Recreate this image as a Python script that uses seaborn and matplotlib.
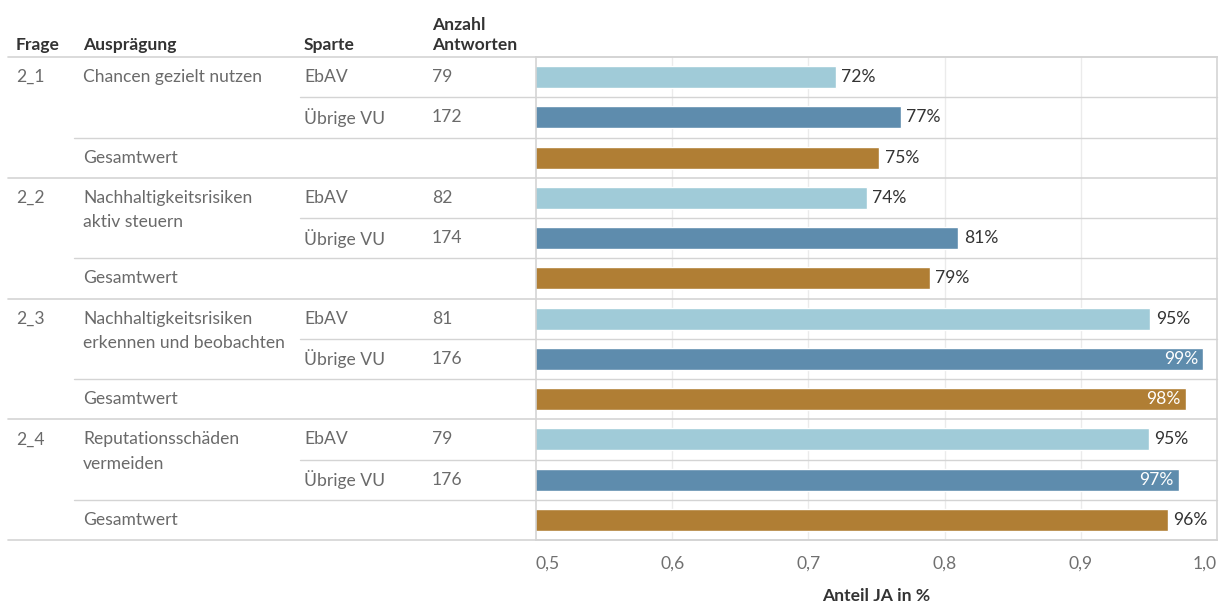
import matplotlib
matplotlib.use("Agg")
import matplotlib.pyplot as plt
import matplotlib.transforms as mtransforms
import seaborn as sns
import pandas as pd

# ---------------- data ----------------
fragen = ["2_1", "2_2", "2_3", "2_4"]
auspraegungen = ["Chancen gezielt nutzen",
                 "Nachhaltigkeitsrisiken\naktiv steuern",
                 "Nachhaltigkeitsrisiken\nerkennen und beobachten",
                 "Reputationsschäden\nvermeiden"]
sparten = ["EbAV", "Übrige VU", "Gesamtwert"]
anzahl_ebav = [79, 82, 81, 79]
anzahl_uebrige = [172, 174, 176, 176]
anteil_ebav = [0.72, 0.743, 0.951, 0.95]
anteil_uebrige = [0.768, 0.81, 0.99, 0.972]
anteil_gesamt = [0.752, 0.789, 0.977, 0.964]
x_ticks = [0.5, 0.6, 0.7, 0.8, 0.9, 1.0]
x_ticklabels = ["0,5", "0,6", "0,7", "0,8", "0,9", "1,0"]
x_title = "Anteil JA in %"
headers = ["Frage", "Ausprägung", "Sparte", "Anzahl\nAntworten"]

colors = {"EbAV": "#A0CBD8", "Übrige VU": "#5E8CAD", "Gesamtwert": "#B07E34"}

rows = []
for i in range(len(fragen)):
    for s, v in zip(sparten, [anteil_ebav[i], anteil_uebrige[i], anteil_gesamt[i]]):
        rows.append({"row": f"{fragen[i]}|{s}", "typ": s, "value": v})
df = pd.DataFrame(rows)

# ---------------- figure ----------------
sns.set_theme(style="white")
plt.rcParams["font.family"] = ["Lato", "DejaVu Sans"]
FS = 12.6
W, H = 1228, 603
fig = plt.figure(figsize=(W / 100, H / 100), dpi=100)
top_px, bot_px, left_px, right_px = 57, 540, 536, 1217
ax = fig.add_axes([left_px / W, 1 - bot_px / H, (right_px - left_px) / W, (bot_px - top_px) / H])

sns.barplot(data=df, x="value", y="row", hue="typ", palette=colors, dodge=False,
            width=0.55, orient="h", legend=False, ax=ax, saturation=1)
ax.set_xlim(0.5, 1.0)
ax.set_ylim(len(df) - 0.5, -0.5)
ax.set_yticks([])
ax.set_ylabel("")
ax.set_xticks(x_ticks)
ax.set_xticklabels(x_ticklabels, color="#707070", fontsize=FS)
tl = ax.get_xticklabels()
tl[0].set_ha("left")
tl[-1].set_ha("right")
ax.tick_params(axis="x", length=0, pad=11)
ax.set_xlabel(x_title, fontsize=FS, fontweight="bold", color="#333333", labelpad=12)
for x in x_ticks[1:-1]:
    ax.axvline(x, color="#EBEBEB", lw=1, zorder=0)
for sp in ["top", "bottom", "left", "right"]:
    ax.spines[sp].set_color("#D4D4D4")
    ax.spines[sp].set_linewidth(1.2)

# percentage labels
for k, v in enumerate(df["value"]):
    txt = f"{v * 100:.0f}%"
    if v > 0.968:
        ax.text(v - 0.004, k, txt, ha="right", va="center", color="white", fontsize=FS)
    else:
        ax.text(v + 0.004, k, txt, ha="left", va="center", color="#333333", fontsize=FS)

# ---------------- table ----------------
blend = mtransforms.blended_transform_factory(fig.transFigure, ax.transData)
col_x = [16 / W, 83 / W, 304 / W, 432 / W]
body = "#6A6A6A"
head = "#333333"

for hx, ht in zip(col_x, headers):
    fig.text(hx, 1 - 50 / H, ht, ha="left", va="baseline", fontsize=FS,
             color=head, linespacing=1.3, fontweight="bold")

def cell(x, y, s):
    ax.text(x, y, s, transform=blend, ha="left", va="center", fontsize=FS, color=body)

n = len(df)
for i in range(len(fragen)):
    r0 = i * 3
    cell(col_x[0], r0, fragen[i])
    for j, line in enumerate(auspraegungen[i].split("\n")):
        cell(col_x[1], r0 + j * 0.6, line)
    cell(col_x[2], r0, sparten[0])
    cell(col_x[3], r0, str(anzahl_ebav[i]))
    cell(col_x[2], r0 + 1, sparten[1])
    cell(col_x[3], r0 + 1, str(anzahl_uebrige[i]))
    cell(col_x[1], r0 + 2, sparten[2])

# horizontal rules
line_c = "#D4D4D4"
for k in range(n + 1):
    yb = k - 0.5
    if k % 3 == 0:
        x0, lw = 8 / W, 1.2
    elif k % 3 == 1:
        x0, lw = 300 / W, 1.0
    else:
        x0, lw = 74 / W, 1.0
    ax.plot([x0, right_px / W], [yb, yb], transform=blend, color=line_c, lw=lw,
            clip_on=False, zorder=0.5)

fig.savefig("out.png", dpi=100, facecolor="white")
